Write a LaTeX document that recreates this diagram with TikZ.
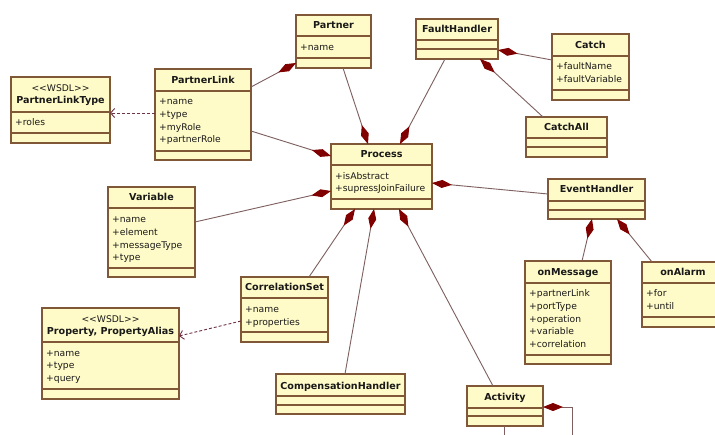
\documentclass[tikz,border=0pt]{standalone}
\usepackage{fontspec}
\setmainfont{DejaVu Sans}
\usetikzlibrary{arrows.meta,calc,fit}

\definecolor{boxfill}{RGB}{255,251,200}
\definecolor{boxedge}{RGB}{128,88,56}
\definecolor{linkline}{RGB}{125,95,95}
\definecolor{diamondred}{RGB}{128,0,0}
\definecolor{deparrow}{RGB}{110,50,70}
\definecolor{txt}{RGB}{25,25,25}

\tikzset{
  clsbox/.style={draw=boxedge, fill=boxfill, line width=1.2pt, inner sep=0pt, outer sep=0pt},
  clsline/.style={draw=boxedge, line width=1.1pt},
  ctitle/.style={anchor=base, inner sep=0pt, font=\fontsize{9.6}{11}\selectfont\bfseries, text=txt},
  cstereo/.style={anchor=base, inner sep=0pt, font=\fontsize{9.2}{11}\selectfont, text=txt},
  cattr/.style={anchor=base west, inner sep=0pt, font=\fontsize{9.2}{11}\selectfont, text=txt},
  comp/.style={draw=linkline, line width=0.9pt,
    -{Diamond[length=20pt,width=8pt,fill=diamondred,color=diamondred]}},
  plainlink/.style={draw=linkline, line width=0.9pt},
  dep/.style={draw=deparrow, line width=0.9pt, dash pattern=on 3pt off 2pt,
    -{Straight Barb[length=4pt,width=9pt]}},
}

% class box: id, left, top, right, bottom, first and second compartment line
\newcommand\umlclass[7]{%
  \node[clsbox, fit={(#2,#3) (#4,#5)}] (#1) {};
  \draw[clsline] (#2,#6) -- (#4,#6);
  \draw[clsline] (#2,#7) -- (#4,#7);
}
% attribute lines: id prefix, x, first baseline, list
\newcommand\umlattrs[4]{%
  \foreach \attrtxt [count=\attrn] in {#4}
    {\node[cattr] (#1-a\attrn) at (#2,{#3+12.7*(\attrn-1)}) {\attrtxt};}%
}

\begin{document}
\begin{tikzpicture}[x=1pt, y=-1pt]
\fill[white] (0,0) rectangle (715,434);
\useasboundingbox (0,0) rectangle (715,434);

% classes
\umlclass{plt}{11}{77}{110}{143}{112}{133}
\node[cstereo] (plt-s) at (60.5,91.5) {<{}<WSDL>{}>};
\node[ctitle] (plt-t) at (60.5,103.5) {PartnerLinkType};
\umlattrs{plt}{15}{125.5}{+roles}

\umlclass{plink}{155}{69}{251}{160}{91}{151}
\node[ctitle] (plink-t) at (203,83.5) {PartnerLink};
\umlattrs{plink}{159}{104.6}{+name,+type,+myRole,+partnerRole}

\umlclass{partner}{296}{15}{371}{68}{36}{58}
\node[ctitle] (partner-t) at (333.5,28.6) {Partner};
\umlattrs{partner}{300}{50.3}{+name}

\umlclass{fault}{416}{19}{498}{59}{40}{49}
\node[ctitle] (fault-t) at (457,32.6) {FaultHandler};

\umlclass{catch}{552}{34}{629}{100}{56}{90}
\node[ctitle] (catch-t) at (590.5,48) {Catch};
\umlattrs{catch}{556}{69.6}{+faultName,+faultVariable}

\umlclass{catchall}{526}{117}{607}{157}{138}{147}
\node[ctitle] (catchall-t) at (566.5,130) {CatchAll};

\umlclass{process}{331}{144}{432}{209}{165}{199}
\node[ctitle] (process-t) at (381.5,157.3) {Process};
\umlattrs{process}{335}{179}{+isAbstract,+supressJoinFailure}

\umlclass{variable}{108}{187}{195}{277}{208}{268}
\node[ctitle] (variable-t) at (151.5,200.6) {Variable};
\umlattrs{variable}{112}{222.6}{+name,+element,+messageType,+type}

\umlclass{event}{548}{179}{645}{219}{201}{210}
\node[ctitle] (event-t) at (596.5,192.6) {EventHandler};

\umlclass{onmsg}{525}{261}{611}{364}{283}{355}
\node[ctitle] (onmsg-t) at (568,275) {onMessage};
\umlattrs{onmsg}{529}{296.6}{+partnerLink,+portType,+operation,+variable,+correlation}

\umlclass{onalarm}{642}{262}{724}{327}{283}{317}
\node[ctitle] (onalarm-t) at (683,275) {onAlarm};
\umlattrs{onalarm}{646}{296.6}{+for,+until}

\umlclass{corrset}{241}{277}{328}{342}{298}{332}
\node[ctitle] (corrset-t) at (284.5,290) {CorrelationSet};
\umlattrs{corrset}{245}{312.3}{+name,+properties}

\umlclass{property}{42}{308}{179}{399}{342}{389}
\node[cstereo] (property-s) at (110.5,322.3) {<{}<WSDL>{}>};
\node[ctitle] (property-t) at (110.5,334.3) {Property, PropertyAlias};
\umlattrs{property}{46}{356}{+name,+type,+query}

\umlclass{comphandler}{276}{374}{405}{414}{396}{405}
\node[ctitle] (comphandler-t) at (340.5,389) {CompensationHandler};

\umlclass{activity}{467}{386}{543}{426}{408}{416}
\node[ctitle] (activity-t) at (505,400) {Activity};

% compositions
\draw[comp] ($(plink.north east)+(0,18)$) -- ($(partner.south west)+(0,-5)$);
\draw[comp] ($(partner.south west)+(47,0)$) -- ($(process.north west)+(37,0)$);
\draw[comp] ($(fault.south west)+(29,0)$) -- ($(process.north west)+(69,0)$);
\draw[comp] ($(catch.north west)+(0,26)$) -- ($(fault.north east)+(0,31)$);
\draw[comp] ($(catchall.north west)+(17,0)$) -- ($(fault.south west)+(64,0)$);
\draw[comp] ($(plink.north east)+(0,62)$) -- ($(process.north west)+(0,12)$);
\draw[comp] ($(variable.north east)+(0,35)$) -- ($(process.north west)+(0,47)$);
\draw[comp] ($(event.north west)+(0,15)$) -- ($(process.north east)+(0,39)$);
\draw[comp] ($(corrset.north west)+(68,0)$) -- ($(process.south west)+(24,0)$);
\draw[comp] ($(comphandler.north west)+(69,0)$) -- ($(process.south west)+(43,0)$);
\draw[comp] ($(activity.north west)+(26,0)$) -- ($(process.south west)+(68,0)$);
\draw[comp] ($(onmsg.north west)+(57,0)$) -- ($(event.south west)+(44,0)$);
\draw[comp] ($(onalarm.north west)+(10,0)$) -- ($(event.south west)+(69,0)$);

% dependencies on WSDL types
\draw[dep] ($(plink.north west)+(0,44)$) -- ($(plt.north east)+(0,36)$);
\draw[dep] ($(corrset.north west)+(0,44)$) -- ($(property.north east)+(0,28)$);

% links leaving Activity downwards
\coordinate (actsub) at (572,440);
\coordinate (actbase) at (504,440);
\draw[comp] (actsub) |- ($(activity.north east)+(0,21)$);
\draw[plainlink] ($(activity.south west)+(37,0)$) -- (actbase);
\end{tikzpicture}
\end{document}
